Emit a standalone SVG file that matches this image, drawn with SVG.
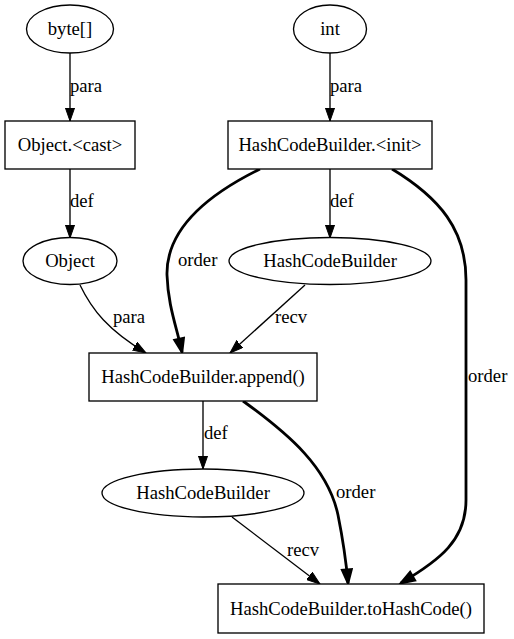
<svg xmlns="http://www.w3.org/2000/svg" width="514" height="639" viewBox="0 0 514 639">
<style>
  text { font-family: "Liberation Serif", "Times New Roman", serif; font-size: 18.67px; fill: #000; }
  .c { text-anchor: middle; }
  .shape { fill: #fff; stroke: #000; stroke-width: 1.33; }
  .e { fill: none; stroke: #000; stroke-width: 1.33; marker-end: url(#ah); }
  .b { fill: none; stroke: #000; stroke-width: 2.8; marker-end: url(#ahb); }
</style>
<defs>
  <marker id="ah" markerUnits="userSpaceOnUse" viewBox="0 0 14 10" refX="13.3" refY="4.67" markerWidth="14" markerHeight="10" orient="auto">
    <path d="M0,0 L13.3,4.67 L0,9.33 z" fill="#000" stroke="#000" stroke-width="1"/>
  </marker>
  <marker id="ahb" markerUnits="userSpaceOnUse" viewBox="-2 -2 18 14" refX="13.3" refY="4.67" markerWidth="18" markerHeight="14" orient="auto">
    <path d="M0,0 L13.3,4.67 L0,9.33 z" fill="#000" stroke="#000" stroke-width="2.5"/>
  </marker>
</defs>
<rect width="514" height="639" fill="#fff"/>
<g id="connectors">
  <path class="e" d="M70,53 L70,121"/>
  <text x="70" y="92">para</text>
  <path class="e" d="M330,53 L330,121"/>
  <text x="330" y="92">para</text>
  <path class="e" d="M70,169 L70,238"/>
  <text x="70" y="207">def</text>
  <path class="e" d="M330,169 L330,238"/>
  <text x="330" y="207">def</text>
  <path class="b" d="M260,169 C205,196 166,230 167,275 C168,305 176,325 182,352"/>
  <text x="178" y="266">order</text>
  <path class="e" d="M80,285 C92,310 108,330 146,353"/>
  <text x="113" y="323">para</text>
  <path class="e" d="M305,285 L230,353"/>
  <text x="275" y="323">recv</text>
  <path class="b" d="M392,169 C440,198 466,230 466,280 L466,500 C466,540 440,560 401,583"/>
  <text x="468" y="382">order</text>
  <path class="e" d="M203,401 L203,469"/>
  <text x="204" y="439">def</text>
  <path class="b" d="M243,401 C290,435 328,468 338,515 C344,545 346,560 348,583"/>
  <text x="336" y="498">order</text>
  <path class="e" d="M232,517 L320,584"/>
  <text x="287" y="556">recv</text>
</g>
<g id="n_byte">
  <ellipse class="shape" cx="70" cy="29" rx="43.5" ry="24"/>
  <text class="c" x="70" y="35">byte[]</text>
</g>
<g id="n_int">
  <ellipse class="shape" cx="330" cy="29" rx="36.5" ry="24"/>
  <text class="c" x="330" y="35">int</text>
</g>
<g id="n_cast">
  <rect class="shape" x="5" y="121" width="130" height="48"/>
  <text class="c" x="70" y="151">Object.&lt;cast&gt;</text>
</g>
<g id="n_init">
  <rect class="shape" x="228" y="121" width="204" height="48"/>
  <text class="c" x="330" y="151">HashCodeBuilder.&lt;init&gt;</text>
</g>
<g id="n_object">
  <ellipse class="shape" cx="70" cy="261" rx="47" ry="23.5"/>
  <text class="c" x="70" y="267">Object</text>
</g>
<g id="n_hcb1">
  <ellipse class="shape" cx="330" cy="261" rx="101" ry="23.5"/>
  <text class="c" x="330" y="267">HashCodeBuilder</text>
</g>
<g id="n_append">
  <rect class="shape" x="89" y="353" width="228" height="48"/>
  <text class="c" x="203" y="383">HashCodeBuilder.append()</text>
</g>
<g id="n_hcb2">
  <ellipse class="shape" cx="203" cy="493" rx="101" ry="24"/>
  <text class="c" x="203" y="499">HashCodeBuilder</text>
</g>
<g id="n_tohash">
  <rect class="shape" x="218" y="584" width="266" height="49"/>
  <text class="c" x="351" y="615">HashCodeBuilder.toHashCode()</text>
</g>
</svg>
